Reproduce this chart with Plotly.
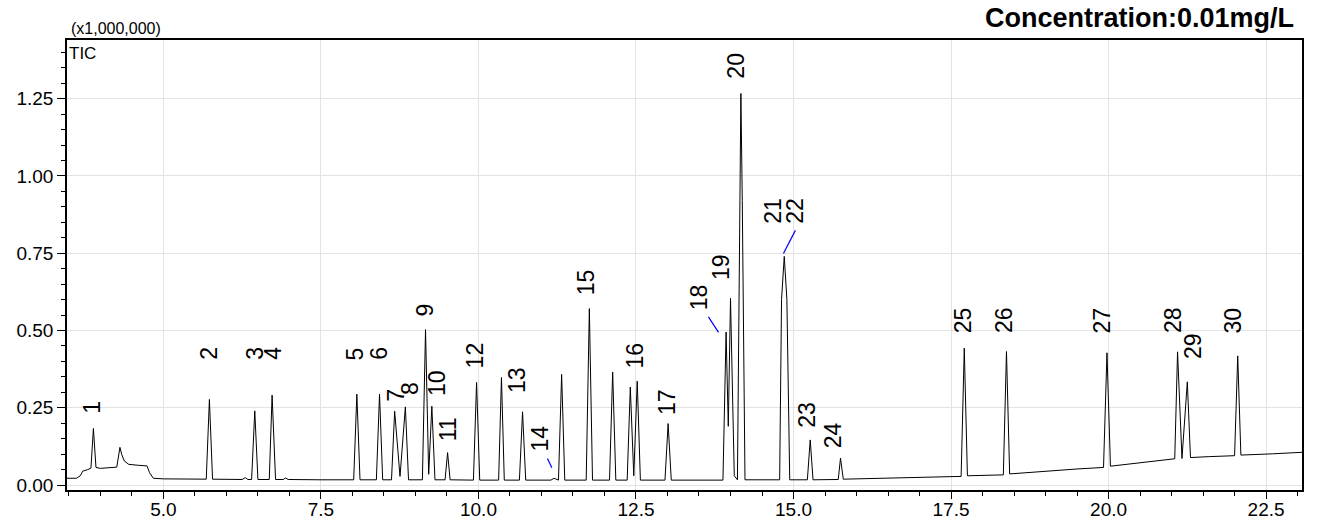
import plotly.graph_objects as go

# ---- Chromatogram trace (retention time in min, TIC in x1,000,000) ----
rt_min = [
    3.47, 3.62, 3.68, 3.72, 3.80, 3.85, 3.889, 3.93, 4.00, 4.15, 4.26, 4.31, 4.34, 4.38, 4.45, 4.60, 4.74, 4.78, 4.84, 5.00, 5.50,
    5.68, 5.73, 5.78,
    6.25, 6.30, 6.34,
    6.40, 6.45, 6.50,
    6.68, 6.725, 6.78,
    6.90, 6.94, 6.98,
    7.50, 8.02, 8.07, 8.12,
    8.38, 8.43, 8.48,
    8.62, 8.67, 8.755, 8.84, 8.89,
    9.11, 9.16, 9.21, 9.26, 9.31,
    9.47, 9.51, 9.55,
    9.92, 9.97, 10.02,
    10.32, 10.365, 10.41,
    10.65, 10.70, 10.75,
    11.15, 11.20, 11.25,
    11.27, 11.32, 11.37,
    11.71, 11.76, 11.81,
    12.08, 12.13, 12.18,
    12.36, 12.41, 12.465, 12.52, 12.57,
    12.96, 13.01, 13.06,
    13.50, 13.88, 13.93, 13.965, 14.00, 14.06, 14.11, 14.145, 14.165, 14.187, 14.23,
    14.78, 14.81, 14.853, 14.895, 14.94,
    15.22, 15.265, 15.31,
    15.71, 15.746, 15.79,
    16.50, 17.00, 17.66, 17.71, 17.76,
    18.33, 18.38, 18.43,
    19.00, 19.50, 19.92, 19.975, 20.03,
    20.50, 21.05, 21.095, 21.165, 21.25, 21.30,
    21.60, 22.00, 22.05, 22.10,
    22.60, 23.07,
]
tic_signal = [
    0.022, 0.022, 0.030, 0.045, 0.050, 0.055, 0.183, 0.057, 0.054, 0.055, 0.058, 0.122, 0.098, 0.078, 0.067, 0.064, 0.062, 0.040, 0.022, 0.020, 0.019,
    0.019, 0.277, 0.019,
    0.018, 0.024, 0.018,
    0.018, 0.240, 0.018,
    0.018, 0.291, 0.018,
    0.018, 0.023, 0.018,
    0.017, 0.017, 0.294, 0.017,
    0.017, 0.294, 0.017,
    0.017, 0.239, 0.028, 0.253, 0.017,
    0.017, 0.503, 0.035, 0.255, 0.017,
    0.017, 0.105, 0.017,
    0.016, 0.332, 0.016,
    0.016, 0.348, 0.016,
    0.016, 0.237, 0.016,
    0.016, 0.022, 0.016,
    0.016, 0.358, 0.016,
    0.016, 0.571, 0.016,
    0.016, 0.366, 0.016,
    0.016, 0.317, 0.030, 0.336, 0.016,
    0.016, 0.199, 0.016,
    0.016, 0.016, 0.495, 0.190, 0.604, 0.030, 0.017, 0.920, 1.267, 0.920, 0.017,
    0.017, 0.600, 0.740, 0.600, 0.017,
    0.017, 0.146, 0.017,
    0.018, 0.087, 0.019,
    0.022, 0.025, 0.028, 0.443, 0.030,
    0.033, 0.432, 0.036,
    0.045, 0.052, 0.057, 0.428, 0.061,
    0.072, 0.085, 0.431, 0.086, 0.334, 0.089,
    0.092, 0.095, 0.418, 0.097,
    0.101, 0.106,
]

# ---- Peak labels ----
peak_labels = [str(i) for i in range(1, 31)]
label_x = [3.868, 5.71, 6.44, 6.725, 8.04, 8.41, 8.68, 8.92, 9.15, 9.34,
           9.52, 9.95, 10.61, 10.98, 11.71, 12.49, 12.99, 13.50, 13.86, 14.09,
           14.68, 15.03, 15.21, 15.63, 17.69, 18.34, 19.90, 21.02, 21.34, 21.98]
label_y = [0.223, 0.398, 0.398, 0.398, 0.398, 0.398, 0.262, 0.285, 0.540, 0.281,
           0.136, 0.372, 0.291, 0.103, 0.608, 0.372, 0.220, 0.559, 0.656, 1.309,
           0.840, 0.840, 0.178, 0.113, 0.485, 0.485, 0.485, 0.485, 0.401, 0.485]

# ---- Blue leader lines (peaks 14, 18, 22) ----
leader_x0 = [11.095, 13.65, 15.03]
leader_y0 = [0.086, 0.544, 0.824]
leader_x1 = [11.165, 13.81, 14.84]
leader_y1 = [0.056, 0.494, 0.749]

FONT = "Liberation Sans, Arial, sans-serif"

fig = go.Figure()
fig.add_trace(go.Scatter(x=rt_min, y=tic_signal, mode="lines",
                         line=dict(color="black", width=1), hoverinfo="x+y",
                         showlegend=False))

annotations = []
for t, lx, ly in zip(peak_labels, label_x, label_y):
    annotations.append(dict(x=lx, y=ly, xref="x", yref="y", text=t, showarrow=False,
                            textangle=-90, xanchor="center", yanchor="bottom",
                            font=dict(family=FONT, size=23, color="black")))

annotations.append(dict(x=0.0, y=1.0, xref="paper", yref="paper", text="(x1,000,000)",
                        showarrow=False, xanchor="left", yanchor="bottom", xshift=2, yshift=1,
                        font=dict(family=FONT, size=16, color="black")))
annotations.append(dict(x=0.0, y=1.0, xref="paper", yref="paper", text="TIC",
                        showarrow=False, xanchor="left", yanchor="top", xshift=0, yshift=-2,
                        font=dict(family=FONT, size=17, color="black")))
annotations.append(dict(x=0.995, y=1.049, xref="paper", yref="paper",
                        text="<b>Concentration:0.01mg/L</b>",
                        showarrow=False, xanchor="right", yanchor="middle",
                        font=dict(family=FONT, size=27, color="black")))

shapes = []
for x0, y0, x1, y1 in zip(leader_x0, leader_y0, leader_x1, leader_y1):
    shapes.append(dict(type="line", xref="x", yref="y", x0=x0, y0=y0, x1=x1, y1=y1,
                       line=dict(color="blue", width=1.2)))

fig.update_layout(
    width=1319, height=522,
    margin=dict(l=67, r=17, t=40, b=32, autoexpand=False),
    paper_bgcolor="white", plot_bgcolor="white",
    font=dict(family=FONT, size=19, color="black"),
    annotations=annotations, shapes=shapes,
    xaxis=dict(range=[3.47, 23.07], tick0=0, dtick=2.5, tickformat=".1f",
               automargin=False, ticklabelstandoff=-6,
               showline=True, linecolor="black", linewidth=1.5, mirror=True,
               ticks="outside", ticklen=7, tickcolor="black", tickwidth=1,
               showgrid=True, gridcolor="#e3e3e3", gridwidth=1, zeroline=False,
               minor=dict(dtick=0.5, tick0=0, ticks="outside", ticklen=4,
                          tickcolor="black", showgrid=False),
               tickfont=dict(family=FONT, size=19, color="black")),
    yaxis=dict(range=[-0.016, 1.44], tick0=0, dtick=0.25, tickformat=".2f",
               automargin=False,
               showline=True, linecolor="black", linewidth=1.5, mirror=True,
               ticks="outside", ticklen=8, tickcolor="black", tickwidth=1,
               showgrid=True, gridcolor="#e3e3e3", gridwidth=1, zeroline=False,
               minor=dict(dtick=0.05, tick0=0, ticks="outside", ticklen=4,
                          tickcolor="black", showgrid=False),
               tickfont=dict(family=FONT, size=19, color="black")),
)

fig.write_html("out.html", config={"displayModeBar": False},
               post_script="document.body.style.margin='0';document.body.style.overflow='hidden';")
